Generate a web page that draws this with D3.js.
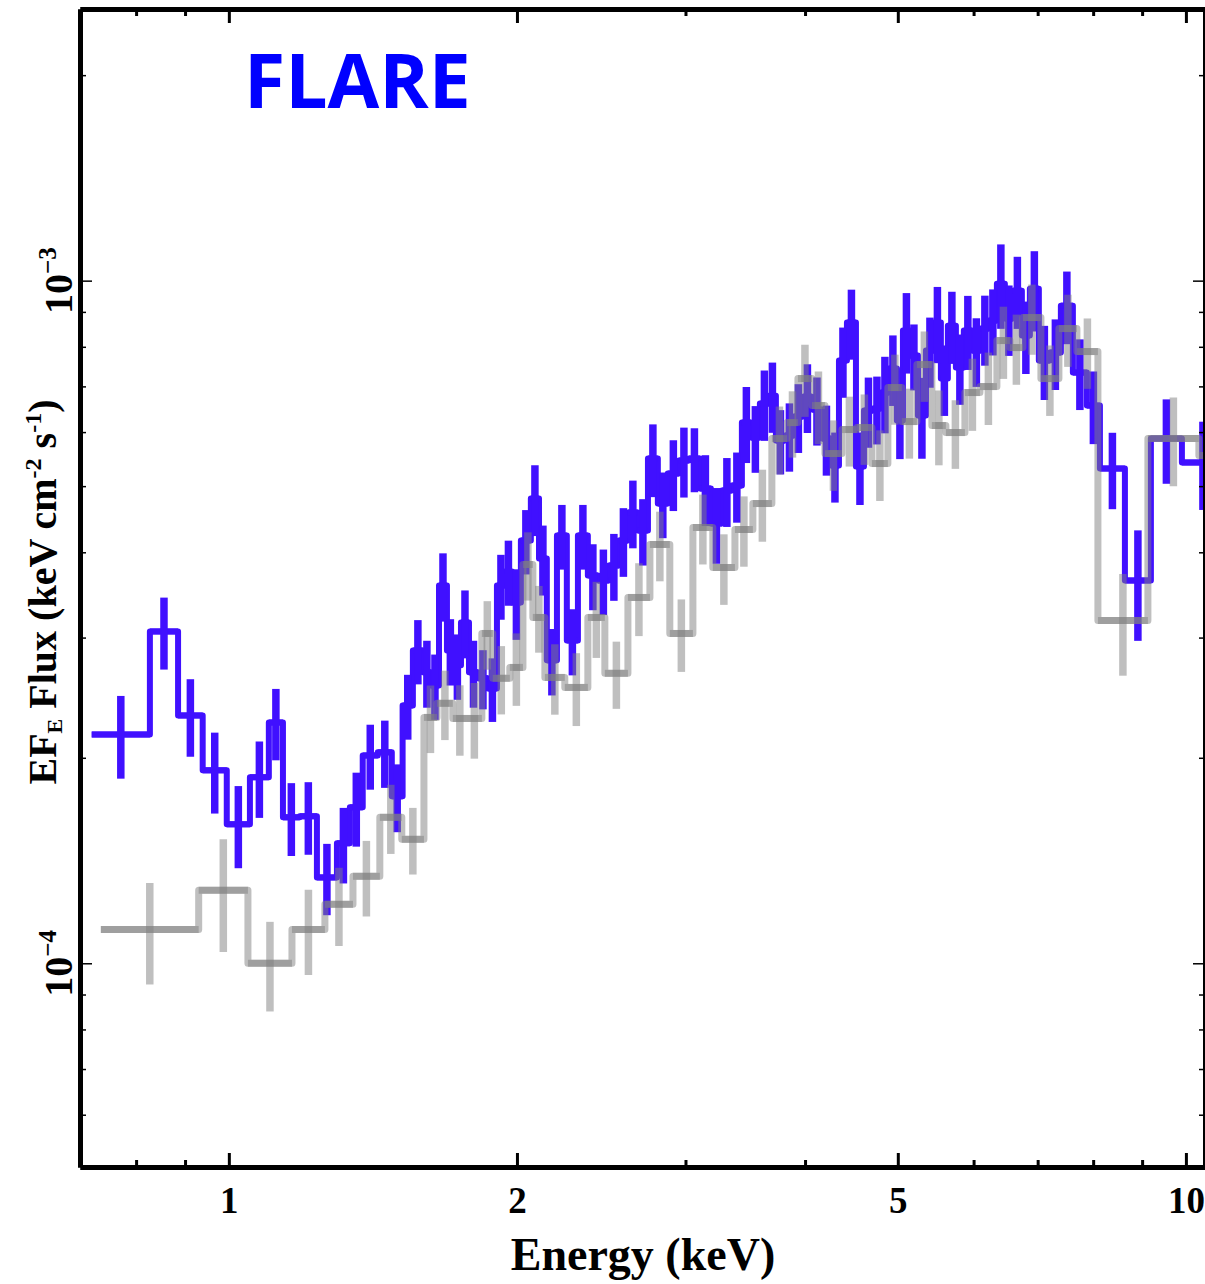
<!DOCTYPE html>
<html>
<head>
<meta charset="utf-8">
<script src="https://cdn.jsdelivr.net/npm/d3@7/dist/d3.min.js"></script>
<style>
    body {
        margin: 0;
        background: #fff;
    }
    svg {
        display: block;
    }
    .serif {
        font-family: "Liberation Serif", "Times New Roman", serif;
        font-weight: bold;
        fill: #000;
    }
    .frame path.domain {
        stroke: #000;
        stroke-width: 5px;
    }
    .xticks line {
        stroke: #000;
        stroke-width: 3px;
    }
    .yticks line {
        stroke: #000;
        stroke-width: 1.5px;
    }
</style>
</head>
<body>
<div id="chart"></div>
<script>
    // flare spectrum: energy bin edges (keV), EF_E flux and 1-sigma error (in units of 1e-4 keV cm^-2 s^-1)
    var flareEdges = [0.719, 0.827, 0.885, 0.939, 0.995, 1.052, 1.101, 1.139, 1.186, 1.236,
        1.297, 1.338, 1.380, 1.431, 1.480, 1.519, 1.557, 1.595, 1.626, 1.658,
        1.690, 1.718, 1.748, 1.782, 1.821, 1.865, 1.906, 1.943, 1.976, 2.019,
        2.068, 2.109, 2.149, 2.202, 2.255, 2.316, 2.372, 2.430, 2.495, 2.556,
        2.612, 2.675, 2.741, 2.807, 2.875, 2.953, 3.025, 3.106, 3.189, 3.275,
        3.354, 3.436, 3.511, 3.588, 3.667, 3.729, 3.811, 3.894, 3.979, 4.067,
        4.166, 4.257, 4.340, 4.424, 4.521, 4.609, 4.710, 4.801, 4.894, 4.989,
        5.062, 5.148, 5.248, 5.350, 5.454, 5.546, 5.640, 5.750, 5.861, 5.975,
        6.106, 6.225, 6.346, 6.469, 6.595, 6.739, 6.870, 7.020, 7.209, 7.402,
        7.619, 7.880, 8.131, 8.635, 9.192, 9.904, 10.958];
    var flareFlux = [2.164, 3.063, 2.307, 1.917, 1.598, 1.873, 2.253, 1.636, 1.642, 1.336,
        1.499, 1.692, 2.016, 2.037, 1.756, 2.386, 2.872, 2.668, 2.553, 3.576,
        2.872, 2.732, 3.157, 2.668, 2.615, 2.527, 3.576, 3.750, 3.377, 4.162,
        4.795, 3.917, 2.778, 4.233, 2.971, 4.233, 3.700, 3.637, 3.826, 4.162,
        4.574, 4.305, 5.488, 4.715, 5.217, 5.451, 5.488, 4.960, 4.408, 4.927,
        5.010, 6.195, 5.890, 6.605, 6.785, 5.831, 5.930, 6.322, 6.762, 6.473,
        5.870, 5.360, 7.636, 8.680, 5.342, 6.451, 6.495, 6.855, 7.433, 6.237,
        8.449, 7.766, 6.344, 7.898, 8.680, 7.186, 8.592, 7.458, 8.449, 7.898,
        8.506, 8.739, 9.900, 8.798, 9.668, 8.308, 9.734, 7.636, 7.845, 9.191,
        7.333, 6.561, 5.306, 3.637, 5.870, 5.414];
    var flareErr = [0.30, 0.37, 0.30, 0.26, 0.22, 0.24, 0.27, 0.20, 0.20, 0.16,
        0.19, 0.21, 0.22, 0.23, 0.20, 0.26, 0.31, 0.30, 0.28, 0.41,
        0.32, 0.30, 0.36, 0.30, 0.26, 0.27, 0.39, 0.41, 0.40, 0.45,
        0.57, 0.46, 0.31, 0.46, 0.33, 0.46, 0.41, 0.40, 0.43, 0.48,
        0.52, 0.48, 0.67, 0.52, 0.62, 0.64, 0.59, 0.59, 0.56, 0.57,
        0.59, 0.79, 0.66, 0.78, 0.80, 0.63, 0.68, 0.73, 0.78, 0.74,
        0.69, 0.63, 0.90, 1.02, 0.65, 0.76, 0.74, 0.88, 0.88, 0.76,
        1.14, 0.86, 0.86, 0.93, 1.11, 0.85, 1.04, 0.88, 1.05, 0.91,
        1.00, 0.97, 1.40, 1.04, 1.17, 1.01, 1.31, 0.95, 0.93, 1.12,
        0.87, 0.80, 0.68, 0.67, 0.83, 0.80];

    // quiescent spectrum (grey), same units
    var quietEdges = [0.735, 0.930, 1.047, 1.164, 1.260, 1.348, 1.438, 1.516, 1.599, 1.650,
        1.714, 1.773, 1.838, 1.887, 1.966, 2.029, 2.078, 2.139, 2.244, 2.372,
        2.471, 2.612, 2.754, 2.889, 3.054, 3.204, 3.379, 3.528, 3.693, 3.830,
        3.932, 4.067, 4.196, 4.371, 4.531, 4.698, 4.882, 5.049, 5.235, 5.427,
        5.613, 5.876, 6.092, 6.346, 6.548, 6.755, 7.055, 7.367, 7.693, 8.092,
        9.126, 10.317, 11.387];
    var quietFlux = [1.121, 1.279, 1.000, 1.121, 1.220, 1.341, 1.636, 1.519, 2.292, 2.403,
        2.284, 2.284, 3.042, 2.615, 2.713, 3.839, 3.211, 2.623, 2.536, 3.211,
        2.659, 3.435, 4.107, 3.042, 4.349, 3.800, 4.320, 4.715, 5.870, 6.195,
        7.186, 6.561, 5.581, 6.051, 6.092, 5.396, 6.971, 6.216, 7.534, 6.134,
        5.990, 6.855, 6.995, 8.169, 7.978, 8.828, 7.186, 8.506, 7.872, 3.178,
        5.870, 5.544];
    var quietErr = [0.19, 0.24, 0.15, 0.16, 0.16, 0.17, 0.19, 0.17, 0.26, 0.28,
        0.27, 0.29, 0.35, 0.30, 0.33, 0.44, 0.36, 0.31, 0.31, 0.41,
        0.30, 0.42, 0.48, 0.37, 0.51, 0.45, 0.51, 0.57, 0.67, 0.69,
        0.87, 0.80, 0.66, 0.71, 0.72, 0.64, 0.82, 0.73, 0.89, 0.77,
        0.69, 0.83, 0.85, 0.99, 0.94, 1.04, 0.85, 1.03, 0.93, 0.54,
        0.87, 0.71];
    var FLUX_UNIT = 1e-4;

    // axis ticks
    var xMajorTicks = [1, 2, 5, 10];
    var xMinorTicks = [0.8, 0.9, 3, 4, 6, 7, 8, 9];
    var yMajorTicks = [1e-4, 1e-3];
    var yMinorTicks = [6e-5, 7e-5, 8e-5, 9e-5, 2e-4, 3e-4, 4e-4, 5e-4, 6e-4, 7e-4, 8e-4, 9e-4, 2e-3];
    var yTickExp = {"0.0001": "\u22124", "0.001": "\u22123"};

    var W = 1205, H = 1284;
    var margin = {top: 9, right: 0, bottom: 117, left: 80},
        width = W - margin.left - margin.right,
        height = H - margin.top - margin.bottom;

    var x = d3.scaleLog().domain([0.699, 10.47]).range([0, width]);
    var y = d3.scaleLog().domain([5.03e-5, 2.5e-3]).range([height, 0]);

    var svg = d3.select("#chart").append("svg")
        .attr("width", W)
        .attr("height", H);
    var g = svg.append("g")
        .attr("transform", "translate(" + margin.left + "," + margin.top + ")");

    g.append("clipPath").attr("id", "plotclip")
        .append("rect").attr("x", 0).attr("y", 0).attr("width", width).attr("height", height);

    // build bins from edges
    function makeBins(edges, flux, err) {
        var bins = [];
        for (var i = 0; i < flux.length; i++) {
            bins.push({
                lo: edges[i],
                hi: edges[i + 1],
                mid: Math.sqrt(edges[i] * edges[i + 1]),
                f: flux[i] * FLUX_UNIT,
                e: err[i] * FLUX_UNIT
            });
        }
        return bins;
    }

    var flare = makeBins(flareEdges, flareFlux, flareErr);
    var quiet = makeBins(quietEdges, quietFlux, quietErr);

    var stepLine = d3.line()
        .curve(d3.curveStepAfter)
        .x(function (d) { return x(d[0]); })
        .y(function (d) { return y(d[1]); });

    function drawSeries(bins, opts) {
        var layer = g.append("g").attr("clip-path", "url(#plotclip)");
        var pts = bins.map(function (d) { return [d.lo, d.f]; });
        pts.push([bins[bins.length - 1].hi, bins[bins.length - 1].f]);

        layer.append("path")
            .datum(pts)
            .attr("d", stepLine)
            .attr("fill", "none")
            .attr("stroke", opts.color)
            .attr("stroke-opacity", opts.opacity)
            .attr("stroke-width", opts.stepWidth)
            .attr("stroke-linejoin", "round");

        // horizontal bin-width bars
        layer.selectAll(".xerr")
            .data(bins).enter().append("line")
            .attr("x1", function (d) { return x(d.lo); })
            .attr("x2", function (d) { return x(d.hi); })
            .attr("y1", function (d) { return y(d.f); })
            .attr("y2", function (d) { return y(d.f); })
            .attr("stroke", opts.color)
            .attr("stroke-opacity", opts.opacity)
            .attr("stroke-width", opts.stepWidth);

        // vertical error bars
        layer.selectAll(".yerr")
            .data(bins).enter().append("line")
            .attr("x1", function (d) { return x(d.mid); })
            .attr("x2", function (d) { return x(d.mid); })
            .attr("y1", function (d) { return y(d.f + d.e); })
            .attr("y2", function (d) { return y(Math.max(d.f - d.e, 1e-6)); })
            .attr("stroke", opts.color)
            .attr("stroke-opacity", opts.opacity)
            .attr("stroke-width", opts.errWidth);
    }

    drawSeries(flare, {color: "#4010ff", opacity: 1, stepWidth: 6, errWidth: 7.5});
    drawSeries(quiet, {color: "#808080", opacity: 0.5, stepWidth: 7, errWidth: 7.5});

    // axes: ticks point inwards
    function xAxis(gen, vals, len) {
        return gen(x).tickValues(vals).tickSizeInner(-len).tickSizeOuter(0).tickFormat("");
    }
    function yAxis(gen, vals, len) {
        return gen(y).tickValues(vals).tickSizeInner(-len).tickSizeOuter(0).tickFormat("");
    }

    var axBottom = g.append("g").attr("class", "frame xticks")
        .attr("transform", "translate(0," + height + ")");
    axBottom.append("g").call(xAxis(d3.axisBottom, xMinorTicks, 7));
    axBottom.append("g").call(d3.axisBottom(x).tickValues(xMajorTicks).tickSizeInner(-14).tickSizeOuter(0)
        .tickPadding(20).tickFormat(d3.format("d")));
    axBottom.selectAll("text").attr("class", "serif").style("font-size", "37px");

    var axTop = g.append("g").attr("class", "frame xticks");
    axTop.append("g").call(xAxis(d3.axisTop, xMinorTicks, 7));
    axTop.append("g").call(xAxis(d3.axisTop, xMajorTicks, 14));

    var axLeft = g.append("g").attr("class", "frame yticks");
    axLeft.append("g").call(yAxis(d3.axisLeft, yMinorTicks, 6));
    axLeft.append("g").call(yAxis(d3.axisLeft, yMajorTicks, 12));

    var axRight = g.append("g").attr("class", "frame yticks")
        .attr("transform", "translate(" + width + ",0)");
    axRight.append("g").call(yAxis(d3.axisRight, yMinorTicks, 6));
    axRight.append("g").call(yAxis(d3.axisRight, yMajorTicks, 12));

    // rotated power-of-ten labels on the y axis
    yMajorTicks.forEach(function (v) {
        var t = g.append("text")
            .attr("class", "serif")
            .attr("text-anchor", "middle")
            .attr("transform", "translate(-8," + y(v) + ") rotate(-90)")
            .style("font-size", "40px");
        t.append("tspan").text("10");
        t.append("tspan").attr("dy", -16).style("font-size", "25px").text(yTickExp[String(v)]);
    });

    // axis titles
    svg.append("text")
        .attr("class", "serif")
        .attr("text-anchor", "middle")
        .attr("x", 643)
        .attr("y", 1270)
        .style("font-size", "46px")
        .text("Energy (keV)");

    var yt = svg.append("text")
        .attr("class", "serif")
        .attr("text-anchor", "middle")
        .attr("transform", "translate(56,592) rotate(-90)")
        .style("font-size", "40px");
    yt.append("tspan").text("EF");
    yt.append("tspan").attr("dy", 6).style("font-size", "22px").text("E");
    yt.append("tspan").attr("dy", -6).text(" Flux (keV cm");
    yt.append("tspan").attr("dy", -15).style("font-size", "24px").text("-2");
    yt.append("tspan").attr("dy", 15).text(" s");
    yt.append("tspan").attr("dy", -15).style("font-size", "24px").text("-1");
    yt.append("tspan").attr("dy", 15).text(")");

    // panel label
    svg.append("text")
        .attr("x", 244)
        .attr("y", 108)
        .attr("fill", "#0000ff")
        .style("font-family", "'Open Sans', sans-serif")
        .style("font-weight", "bold")
        .style("font-size", "75px")
        .text("FLARE");
</script>
</body>
</html>
